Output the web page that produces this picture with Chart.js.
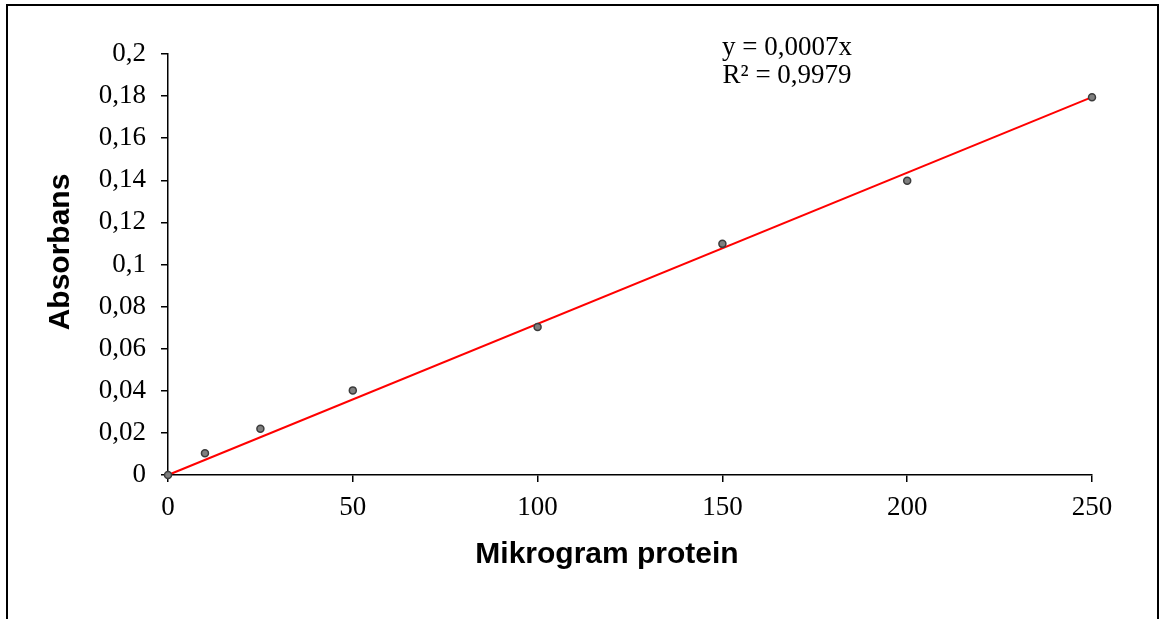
<!DOCTYPE html>
<html>
<head>
<meta charset="utf-8">
<script src="https://cdn.jsdelivr.net/npm/chart.js@4/dist/chart.umd.min.js"></script>
<style>
  html, body { margin: 0; padding: 0; background: #fff; overflow: hidden; }
  #wrap { position: relative; width: 1161px; height: 619px; }
  #frame { position: absolute; left: 6px; top: 4px; width: 1149px; height: 700px;
           border: 2px solid #000; pointer-events: none; }
</style>
</head>
<body>
<div id="wrap">
  <canvas id="chart" width="1161" height="619"></canvas>
  <div id="frame"></div>
</div>
<script>
// measured points
const protein = [0, 10, 25, 50, 100, 150, 200, 250];
const absorbans = [0, 0.0103, 0.022, 0.0402, 0.0703, 0.1098, 0.1398, 0.1795];

// linear trendline (through origin) endpoints as shown
const trendX = [0, 250];
const trendY = [0, 0.1795];

const xTicks = [0, 50, 100, 150, 200, 250];
const yTicks = [0, 0.02, 0.04, 0.06, 0.08, 0.1, 0.12, 0.14, 0.16, 0.18, 0.2];

const eqLines = ['y = 0,0007x', 'R\u00b2 = 0,9979'];
const xTitle = 'Mikrogram protein';
const yTitle = 'Absorbans';

const serif = "'Liberation Serif', 'Times New Roman', serif";
const sans = "'Liberation Sans', Arial, sans-serif";

function comma(v) {
  return Number(v.toFixed(2)).toString().replace('.', ',');
}

// equation box + axis titles (Excel puts titles a bit off-centre)
const textPlugin = {
  id: 'texts',
  afterDraw(chart) {
    const ctx = chart.ctx;
    const a = chart.chartArea;
    ctx.save();
    ctx.fillStyle = '#000';
    ctx.font = '27px ' + serif;
    ctx.textAlign = 'center';
    ctx.textBaseline = 'middle';
    const ex = chart.scales.x.getPixelForValue(167.5);
    eqLines.forEach((t, i) => ctx.fillText(t, ex, a.top - 6 + i * 28));

    ctx.font = 'bold 30px ' + sans;
    ctx.textBaseline = 'alphabetic';
    ctx.fillText(xTitle, a.left + 439, a.bottom + 88);

    ctx.translate(69, a.top + 198);
    ctx.rotate(-Math.PI / 2);
    ctx.fillText(yTitle, 0, 0);
    ctx.restore();
  }
};

const ctx = document.getElementById('chart').getContext('2d');
const chart = new Chart(ctx, {
  type: 'scatter',
  data: {
    datasets: [
      {
        label: 'Absorbans',
        data: protein.map((p, i) => ({ x: p, y: absorbans[i] })),
        backgroundColor: '#7f7f7f',
        borderColor: '#3c3c3c',
        borderWidth: 1.5,
        pointRadius: 3.5,
        clip: false,
        order: 1
      },
      {
        label: 'Trend',
        data: trendX.map((p, i) => ({ x: p, y: trendY[i] })),
        showLine: true,
        borderColor: '#ff0000',
        borderWidth: 2,
        pointRadius: 0,
        clip: false,
        order: 2
      }
    ]
  },
  options: {
    responsive: false,
    animation: false,
    layout: { padding: { top: 54, right: 69, left: 0, bottom: 0 } },
    plugins: {
      legend: { display: false },
      tooltip: { enabled: false }
    },
    scales: {
      x: {
        type: 'linear',
        min: 0,
        max: 250,
        afterBuildTicks: s => { s.ticks = xTicks.map(v => ({ value: v })); },
        afterFit: s => { s.height = 144; },
        grid: { drawOnChartArea: false, color: '#000', lineWidth: 1.5, tickLength: 7 },
        border: { color: '#000', width: 1.5 },
        ticks: { color: '#000', font: { family: serif, size: 27 }, padding: 10, maxRotation: 0 }
      },
      y: {
        type: 'linear',
        min: 0,
        max: 0.2,
        afterBuildTicks: s => { s.ticks = yTicks.map(v => ({ value: v })); },
        afterFit: s => { s.width = 168; },
        grid: { drawOnChartArea: false, color: '#000', lineWidth: 1.5, tickLength: 7 },
        border: { color: '#000', width: 1.5 },
        ticks: { color: '#000', font: { family: serif, size: 27 }, padding: 15, callback: v => comma(v) }
      }
    }
  },
  plugins: [textPlugin]
});
</script>
</body>
</html>
